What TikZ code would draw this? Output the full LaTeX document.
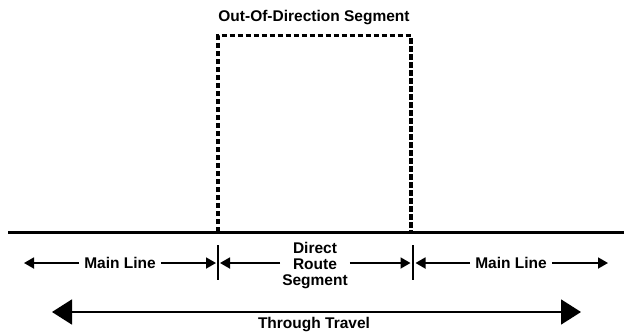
\documentclass[tikz,border=0pt]{standalone}
\usepackage{fontspec}
\setmainfont{Liberation Sans}
\usetikzlibrary{arrows.meta}
\tikzset{
  lbl/.style={font=\bfseries\fontsize{15.5}{16}\selectfont, inner sep=0pt},
  small/.style={line width=1.8pt, -{Triangle[length=10pt,width=11pt]}},
  big/.style={line width=1.8pt, {Triangle[length=20pt,width=25pt]}-{Triangle[length=20pt,width=25pt]}},
  tick/.style={line width=2pt},
}
\begin{document}
\begin{tikzpicture}[x=1pt,y=-1pt]
\useasboundingbox (0,0) rectangle (624,332);
% main road line
\coordinate (ml0) at (8,232);
\coordinate (ml1) at (624,232);
\draw[line width=3pt] (ml0) -- (ml1);
% out-of-direction dashed segment
\coordinate (b1) at (218,232);
\coordinate (b2) at (218,35.5);
\coordinate (b3) at (411,35.5);
\coordinate (b4) at (411,232);
\draw[line width=3.2pt, dash pattern=on 5.5pt off 2.5pt] (b1) -- (b2) -- (b3) -- (b4);
\node[lbl] (title) at (314,18) {Out-Of-Direction Segment};
% ticks
\coordinate (t1a) at (217.5,245); \coordinate (t1b) at (217.5,280);
\coordinate (t2a) at (413,245); \coordinate (t2b) at (413,280);
\draw[tick] (t1a) -- (t1b);
\draw[tick] (t2a) -- (t2b);
% labels
\node[lbl, inner xsep=5pt] (mlL) at (120,263) {Main Line};
\node[lbl, inner xsep=5pt] (mlR) at (511,263) {Main Line};
\node[lbl, align=center, inner xsep=2pt] (drs) at (315,266) {Direct\\Route\\Segment};
% tips
\coordinate (tipL) at (24,263);
\coordinate (tipA) at (216,263);
\coordinate (tipB) at (220,263);
\coordinate (tipC) at (410.5,263);
\coordinate (tipD) at (415.5,263);
\coordinate (tipR) at (608,263);
\draw[small] (mlL.west) -- (tipL);
\draw[small] (mlL.east) -- (tipA);
\draw[small] (drs.west |- tipB) -- (tipB);
\draw[small] (drs.east |- tipC) -- (tipC);
\draw[small] (mlR.west) -- (tipD);
\draw[small] (mlR.east) -- (tipR);
% through travel
\coordinate (ttL) at (52,312);
\coordinate (ttR) at (581,312);
\draw[big] (ttL) -- (ttR);
\node[lbl, anchor=south] (tt) at (314,331.5) {Through Travel};
\end{tikzpicture}
\end{document}
